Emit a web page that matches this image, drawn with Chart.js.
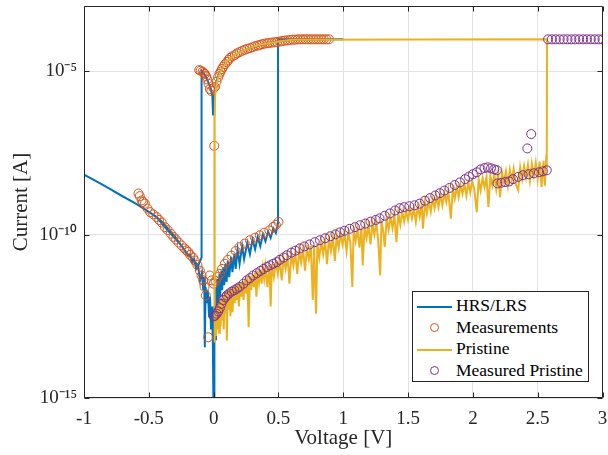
<!DOCTYPE html>
<html>
<head>
<meta charset="utf-8">
<script src="https://cdn.jsdelivr.net/npm/chart.js@4.4.0/dist/chart.umd.min.js"></script>
<style>
  body { margin: 0; background: #fff; }
  #wrap { position: relative; width: 608px; height: 455px; }
  #legend {
    position: absolute; left: 412px; top: 291px; width: 177px; height: 91px;
    border: 1px solid #262626; background: #fff; box-sizing: border-box;
    font-family: "Liberation Serif", serif; font-size: 17.5px; color: #000;
    padding-top: 3px;
  }
  .row { position: relative; height: 21.7px; }
  .row .txt { position: absolute; left: 43px; top: 50%; transform: translateY(-52%); white-space: nowrap; }
  .row .ln { position: absolute; left: 4px; width: 35px; top: 50%; height: 0; }
  .row .mk { position: absolute; left: 17px; top: 50%; width: 7px; height: 7px; margin-top: -4.5px; border-radius: 50%; }
</style>
</head>
<body>
<div id="wrap">
  <canvas id="iv" width="608" height="455"></canvas>
  <div id="legend"></div>
</div>
<script>
// [voltage V, log10(current A)]
const hrsLrsPts = [
  // HRS 0 -> 0.5 V
  [0.004,-16],[0.004,-14.5],[0.008,-12.6],[0.012,-13.2],[0.018,-11.6],[0.022,-12.3],[0.03,-11.35],[0.036,-12.1],
  [0.045,-11.2],[0.05,-11.9],[0.06,-11.1],[0.066,-11.7],[0.075,-11.0],[0.082,-11.55],[0.09,-10.9],[0.1,-11.45],
  [0.11,-10.8],[0.12,-11.3],[0.135,-10.68],[0.145,-11.15],[0.16,-10.58],[0.17,-11.05],[0.185,-10.45],[0.2,-10.9],
  [0.22,-10.35],[0.235,-10.75],[0.26,-10.25],[0.28,-10.6],[0.3,-10.15],[0.32,-10.45],[0.34,-10.07],[0.36,-10.35],
  [0.38,-10.0],[0.4,-10.2],[0.42,-9.9],[0.44,-10.1],[0.46,-9.8],[0.48,-9.95],[0.497,-9.65],
  // set, compliance, LRS back to 0 and on to reset
  [0.497,-4.02],[0.55,-4.02],[1.0,-4.02],[0.9,-4.02],[0.6,-4.04],[0.5,-4.08],[0.4,-4.15],[0.3,-4.27],
  [0.2,-4.42],[0.15,-4.53],[0.1,-4.71],[0.07,-4.87],[0.05,-5.02],[0.03,-5.2],[0.015,-5.45],[0.005,-5.7],
  [-0.004,-6.35],[-0.01,-5.75],[-0.02,-5.55],[-0.03,-5.45],[-0.05,-5.25],[-0.07,-5.1],[-0.093,-4.98],
  // reset, HRS out to -1 V
  [-0.093,-10.7],[-0.12,-10.95],[-0.15,-10.8],[-0.2,-10.6],[-0.25,-10.33],[-0.3,-10.05],[-0.35,-9.82],
  [-0.4,-9.6],[-0.45,-9.44],[-0.5,-9.3],[-0.6,-9.05],[-0.72,-8.79],[-0.8,-8.6],[-0.9,-8.38],[-1.0,-8.16],
  // HRS back to 0
  [-0.9,-8.38],[-0.8,-8.6],[-0.7,-8.83],[-0.6,-9.05],[-0.5,-9.3],[-0.44,-9.46],[-0.38,-9.75],[-0.31,-10.07],
  [-0.25,-10.33],[-0.22,-10.5],[-0.2,-10.63],[-0.18,-10.62],[-0.165,-10.85],[-0.15,-10.75],[-0.135,-11.05],
  [-0.12,-10.95],[-0.105,-11.4],[-0.09,-11.15],[-0.08,-11.7],[-0.072,-11.3],[-0.068,-13.45],[-0.062,-11.6],
  [-0.052,-12.1],[-0.045,-11.7],[-0.035,-12.5],[-0.028,-11.9],[-0.02,-12.9],[-0.012,-12.2],[-0.006,-13.3],[0.0,-16]
];

const measPts = [
  // LRS
  [-0.111,-4.96],[-0.1,-4.98],[-0.085,-5.01],[-0.075,-5.05],[-0.067,-5.08],[-0.058,-5.15],[-0.05,-5.25],[-0.04,-5.38],
  [-0.029,-5.54],[-0.018,-5.6],[0.0,-5.52],[0.01,-5.48],[0.022,-5.32],[0.035,-5.18],[0.045,-5.08],[0.054,-5.01],
  [0.064,-4.93],[0.074,-4.86],[0.088,-4.78],[0.104,-4.71],[0.115,-4.65],[0.125,-4.59],[0.145,-4.54],[0.164,-4.5],
  [0.18,-4.45],[0.2,-4.41],[0.22,-4.37],[0.24,-4.34],[0.26,-4.31],[0.28,-4.29],[0.3,-4.26],[0.32,-4.23],
  [0.34,-4.21],[0.357,-4.19],[0.375,-4.17],[0.395,-4.15],[0.415,-4.14],[0.43,-4.13],[0.45,-4.12],[0.47,-4.11],
  [0.49,-4.1],[0.51,-4.09],[0.53,-4.07],[0.55,-4.06],[0.57,-4.05],[0.59,-4.04],[0.61,-4.03],[0.63,-4.03],
  [0.65,-4.02],[0.67,-4.02],[0.69,-4.02],[0.71,-4.02],[0.73,-4.02],[0.75,-4.02],[0.77,-4.02],[0.79,-4.02],
  [0.81,-4.02],[0.83,-4.02],[0.85,-4.02],[0.87,-4.02],[0.89,-4.02],
  [0.005,-7.28],
  // HRS
  [-0.58,-8.74],[-0.57,-8.82],[-0.555,-8.95],[-0.545,-9.0],[-0.53,-9.05],[-0.51,-9.2],[-0.49,-9.31],[-0.465,-9.38],
  [-0.44,-9.46],[-0.42,-9.55],[-0.4,-9.63],[-0.376,-9.77],[-0.355,-9.86],[-0.33,-9.97],[-0.31,-10.07],[-0.29,-10.15],
  [-0.27,-10.24],[-0.247,-10.33],[-0.225,-10.42],[-0.21,-10.48],[-0.196,-10.53],[-0.18,-10.62],[-0.16,-10.7],
  [-0.145,-10.79],[-0.125,-10.93],[-0.106,-11.1],[-0.093,-11.25],[-0.08,-11.4],[-0.07,-11.6],[-0.06,-11.86],
  [-0.042,-13.14],[-0.03,-11.25],[-0.015,-11.4],[0.0,-11.5],
  [0.015,-11.42],[0.03,-11.3],[0.048,-11.2],[0.065,-11.05],[0.087,-10.89],[0.11,-10.77],[0.138,-10.64],[0.17,-10.5],
  [0.2,-10.38],[0.24,-10.27],[0.28,-10.17],[0.32,-10.09],[0.357,-10.02],[0.39,-9.94],[0.43,-9.87],[0.46,-9.76],
  [0.48,-9.7],[0.5,-9.61]
];

const pristinePts = [
  [0.008,-13.3],[0.012,-12.3],[0.018,-13.1],[0.024,-12.2],[0.03,-12.9],[0.036,-12.1],[0.042,-13.0],[0.048,-12.0],
  [0.054,-12.8],[0.06,-11.95],[0.066,-12.6],[0.072,-11.85],[0.078,-12.9],[0.084,-11.8],[0.09,-12.4],[0.096,-11.75],
  [0.102,-13.24],[0.108,-11.7],[0.115,-12.3],[0.122,-11.68],[0.13,-12.5],[0.138,-11.62],[0.146,-12.37],[0.154,-11.6],
  [0.162,-12.1],[0.17,-11.55],[0.178,-12.0],[0.186,-11.5],[0.195,-12.2],[0.204,-11.48],[0.213,-11.9],[0.222,-11.42],
  [0.231,-12.0],[0.24,-11.38],[0.25,-11.8],[0.26,-11.3],[0.27,-12.83],[0.28,-11.25],[0.29,-11.7],[0.3,-11.22],
  [0.31,-11.6],[0.32,-11.15],[0.33,-11.9],[0.34,-11.1],[0.35,-11.45],[0.36,-11.06],[0.37,-11.5],[0.38,-11.02],
  [0.39,-11.35],[0.4,-10.98],[0.415,-11.6],[0.43,-10.93],[0.44,-12.2],[0.45,-10.9],[0.465,-11.3],[0.48,-10.85],
  [0.495,-11.2],[0.51,-10.78],[0.525,-11.4],[0.54,-10.72],[0.555,-11.05],[0.57,-10.66],[0.585,-11.5],[0.6,-10.6],
  [0.615,-10.95],[0.63,-10.55],[0.645,-11.2],[0.66,-10.48],[0.675,-10.85],[0.69,-10.44],[0.705,-11.1],[0.72,-10.4],
  [0.735,-10.75],[0.75,-10.35],[0.765,-12.0],[0.775,-10.32],[0.79,-12.42],[0.8,-10.28],[0.815,-10.7],[0.83,-10.22],
  [0.845,-10.6],[0.86,-10.18],[0.875,-10.9],[0.89,-10.12],[0.905,-10.5],[0.92,-10.08],[0.935,-10.8],[0.95,-10.02],
  [0.965,-10.4],[0.98,-9.98],[0.995,-10.3],[1.01,-9.95],[1.025,-10.5],[1.04,-9.92],[1.055,-10.25],[1.07,-11.6],
  [1.08,-9.87],[1.095,-10.2],[1.11,-9.82],[1.125,-10.4],[1.14,-9.78],[1.15,-10.94],[1.165,-9.74],[1.18,-10.1],
  [1.195,-9.7],[1.21,-10.3],[1.225,-9.66],[1.24,-10.0],[1.255,-9.62],[1.27,-10.2],[1.285,-11.25],[1.295,-9.56],
  [1.31,-9.95],[1.32,-10.38],[1.335,-9.5],[1.35,-9.85],[1.365,-9.45],[1.38,-9.8],[1.395,-9.4],[1.41,-10.23],
  [1.425,-9.34],[1.44,-9.7],[1.455,-9.3],[1.47,-9.6],[1.485,-9.26],[1.5,-9.55],[1.515,-9.22],[1.53,-9.5],
  [1.545,-9.18],[1.56,-9.6],[1.575,-9.14],[1.59,-9.45],[1.605,-9.08],[1.615,-9.82],[1.63,-9.02],[1.645,-9.35],
  [1.66,-8.96],[1.675,-9.3],[1.69,-8.9],[1.705,-9.2],[1.72,-8.84],[1.735,-9.15],[1.75,-8.78],[1.765,-9.1],
  [1.78,-8.72],[1.795,-9.0],[1.81,-8.66],[1.83,-9.51],[1.845,-8.6],[1.86,-8.9],[1.875,-8.54],[1.89,-8.85],
  [1.905,-8.48],[1.92,-8.75],[1.935,-8.44],[1.95,-8.8],[1.965,-8.4],[1.98,-8.7],[1.995,-8.36],[2.01,-8.6],
  [2.03,-9.31],[2.045,-8.3],[2.06,-8.65],[2.075,-8.26],[2.09,-8.55],[2.105,-8.24],[2.12,-9.15],[2.135,-8.2],
  [2.15,-8.5],[2.165,-8.16],[2.18,-8.6],[2.195,-8.12],[2.21,-8.85],[2.225,-8.1],[2.24,-8.4],[2.255,-8.06],
  [2.27,-8.5],[2.285,-8.02],[2.3,-8.35],[2.315,-7.98],[2.33,-8.45],[2.35,-8.64],[2.365,-7.94],[2.38,-8.3],
  [2.395,-7.9],[2.41,-8.25],[2.425,-7.86],[2.44,-8.35],[2.455,-7.82],[2.47,-8.2],[2.485,-7.8],[2.5,-8.3],
  [2.515,-7.76],[2.53,-8.54],[2.545,-7.74],[2.555,-8.5],[2.565,-7.72],[2.57,-7.8],
  // forming jump, back along LRS
  [2.572,-4.02],[0.62,-4.03],[0.59,-4.04],[0.55,-4.06],[0.51,-4.08],[0.47,-4.11],[0.43,-4.13],[0.39,-4.16],
  [0.36,-4.19],[0.32,-4.23],[0.28,-4.29],[0.24,-4.35],[0.2,-4.42],[0.16,-4.51],[0.125,-4.61],[0.1,-4.71],
  [0.075,-4.85],[0.055,-5.0],[0.035,-5.2],[0.022,-5.4],[0.012,-5.7],[0.008,-6.5],[0.008,-13.3]
];

const measPristinePts = [
  [0.0,-12.5],[0.01,-12.48],[0.023,-12.42],[0.035,-12.35],[0.048,-12.25],[0.06,-12.12],[0.075,-12.0],[0.09,-11.92],
  [0.102,-11.86],[0.12,-11.8],[0.14,-11.74],[0.16,-11.7],[0.18,-11.65],[0.2,-11.6],[0.23,-11.5],[0.256,-11.4],
  [0.28,-11.33],[0.305,-11.25],[0.333,-11.18],[0.36,-11.11],[0.385,-11.05],[0.41,-10.99],[0.435,-10.94],[0.46,-10.89],
  [0.487,-10.84],[0.51,-10.77],[0.54,-10.7],[0.565,-10.63],[0.6,-10.55],[0.63,-10.49],[0.665,-10.42],[0.7,-10.36],
  [0.74,-10.3],[0.78,-10.23],[0.82,-10.17],[0.86,-10.11],[0.9,-10.05],[0.94,-9.99],[0.975,-9.93],[1.01,-9.88],
  [1.05,-9.82],[1.09,-9.77],[1.13,-9.71],[1.17,-9.66],[1.21,-9.6],[1.25,-9.55],[1.28,-9.5],[1.32,-9.42],
  [1.36,-9.35],[1.4,-9.26],[1.435,-9.19],[1.47,-9.16],[1.51,-9.13],[1.55,-9.1],[1.59,-9.05],[1.63,-8.96],
  [1.67,-8.88],[1.71,-8.8],[1.745,-8.73],[1.78,-8.65],[1.82,-8.57],[1.86,-8.48],[1.9,-8.4],[1.94,-8.3],
  [1.97,-8.22],[2.0,-8.15],[2.03,-8.09],[2.06,-8.0],[2.09,-7.96],[2.115,-7.94],[2.14,-7.97],[2.165,-8.0],
  [2.185,-8.03],[2.19,-8.43],[2.22,-8.41],[2.25,-8.39],[2.28,-8.37],[2.31,-8.3],[2.35,-8.23],[2.385,-8.18],
  [2.42,-7.36],[2.45,-6.92],[2.43,-8.15],[2.47,-8.12],[2.51,-8.09],[2.54,-8.06],[2.57,-8.03],
  [2.58,-4.02],[2.61,-4.02],[2.64,-4.02],[2.67,-4.02],[2.7,-4.02],[2.73,-4.02],[2.76,-4.02],[2.79,-4.02],
  [2.82,-4.02],[2.85,-4.02],[2.88,-4.02],[2.91,-4.02],[2.94,-4.02],[2.97,-4.02],[3.0,-4.02]
];

const xTicks = [-1, -0.5, 0, 0.5, 1, 1.5, 2, 2.5, 3];
const yTicks = [1e-15, 1e-10, 1e-5];

const toXY = pts => pts.map(p => ({ x: p[0], y: Math.pow(10, p[1]) }));

const supMap = { "-": "\u207b", "0": "\u2070", "1": "\u00b9", "2": "\u00b2", "3": "\u00b3", "4": "\u2074",
                 "5": "\u2075", "6": "\u2076", "7": "\u2077", "8": "\u2078", "9": "\u2079" };
function powLabel(v) {
  const e = String(Math.round(Math.log10(v)));
  return "10" + e.split("").map(c => supMap[c]).join("");
}

const axisCol = "#262626";
const gridCol = "#e3e3e3";
const serif = "'Liberation Serif', 'Times New Roman', serif";

// box round the axes with inward ticks, MATLAB style
const boxPlugin = {
  id: "box",
  afterDatasetsDraw(chart) {
    const { ctx, chartArea: a, scales } = chart;
    ctx.save();
    ctx.strokeStyle = axisCol;
    ctx.lineWidth = 1;
    const l = Math.round(a.left) + 0.5, r = Math.round(a.right) - 0.5;
    const t = Math.round(a.top) + 0.5, b = Math.round(a.bottom) - 0.5;
    ctx.beginPath();
    ctx.rect(l, t, r - l, b - t);
    xTicks.forEach(v => {
      const px = Math.round(scales.x.getPixelForValue(v)) + 0.5;
      ctx.moveTo(px, b); ctx.lineTo(px, b - 5);
      ctx.moveTo(px, t); ctx.lineTo(px, t + 5);
    });
    yTicks.forEach(v => {
      const py = Math.round(scales.y.getPixelForValue(v)) + 0.5;
      ctx.moveTo(l, py); ctx.lineTo(l + 5, py);
      ctx.moveTo(r, py); ctx.lineTo(r - 5, py);
    });
    ctx.stroke();
    ctx.restore();
  }
};

const chart = new Chart(document.getElementById("iv"), {
  type: "scatter",
  data: {
    datasets: [
      { label: "HRS/LRS", data: toXY(hrsLrsPts), showLine: true, borderColor: "#0072BD",
        borderWidth: 2, pointRadius: 0, order: 4 },
      { label: "Measurements", data: toXY(measPts), showLine: false, borderColor: "#D95319",
        backgroundColor: "rgba(0,0,0,0)", borderWidth: 1, pointRadius: 4.5, order: 3 },
      { label: "Pristine", data: toXY(pristinePts), showLine: true, borderColor: "#EDB120",
        borderWidth: 2, pointRadius: 0, order: 2 },
      { label: "Measured Pristine", data: toXY(measPristinePts), showLine: false, borderColor: "#7E2F8E",
        backgroundColor: "rgba(0,0,0,0)", borderWidth: 1, pointRadius: 4.5, order: 1 }
    ]
  },
  options: {
    responsive: false,
    animation: false,
    devicePixelRatio: 1,
    layout: { padding: { top: 6, right: 5, left: 0, bottom: 0 } },
    plugins: { legend: { display: false }, tooltip: { enabled: false } },
    scales: {
      x: {
        type: "linear", min: -1, max: 3,
        afterBuildTicks: s => { s.ticks = xTicks.map(v => ({ value: v })); },
        afterFit: s => { s.height = 57; s.paddingLeft = 0; s.paddingRight = 0; },
        grid: { color: gridCol, drawTicks: false },
        border: { display: false },
        ticks: { color: axisCol, padding: 10, font: { family: serif, size: 19 }, maxRotation: 0,
                 callback: v => String(v) },
        title: { display: true, text: "Voltage [V]", color: axisCol, font: { family: serif, size: 21 },
                 padding: { top: 0, bottom: 4 } }
      },
      y: {
        type: "logarithmic", min: 1e-15, max: 1e-3,
        afterBuildTicks: s => { s.ticks = yTicks.map(v => ({ value: v })); },
        afterFit: s => { s.width = 84; s.paddingTop = 0; s.paddingBottom = 0; },
        grid: { color: gridCol, drawTicks: false },
        border: { display: false },
        ticks: { color: axisCol, padding: 7, font: { family: serif, size: 19 }, callback: v => powLabel(v) },
        title: { display: true, text: "Current [A]", color: axisCol, font: { family: serif, size: 21 },
                 padding: { top: 9, bottom: 0 } }
      }
    }
  },
  plugins: [boxPlugin]
});

// legend box inside the axes, built from the datasets
const legend = document.getElementById("legend");
chart.data.datasets.forEach(ds => {
  const row = document.createElement("div");
  row.className = "row";
  const sym = document.createElement("div");
  if (ds.showLine) {
    sym.className = "ln";
    sym.style.borderTop = ds.borderWidth + "px solid " + ds.borderColor;
  } else {
    sym.className = "mk";
    sym.style.border = "1px solid " + ds.borderColor;
  }
  const txt = document.createElement("span");
  txt.className = "txt";
  txt.textContent = ds.label;
  row.appendChild(sym);
  row.appendChild(txt);
  legend.appendChild(row);
});
</script>
</body>
</html>
